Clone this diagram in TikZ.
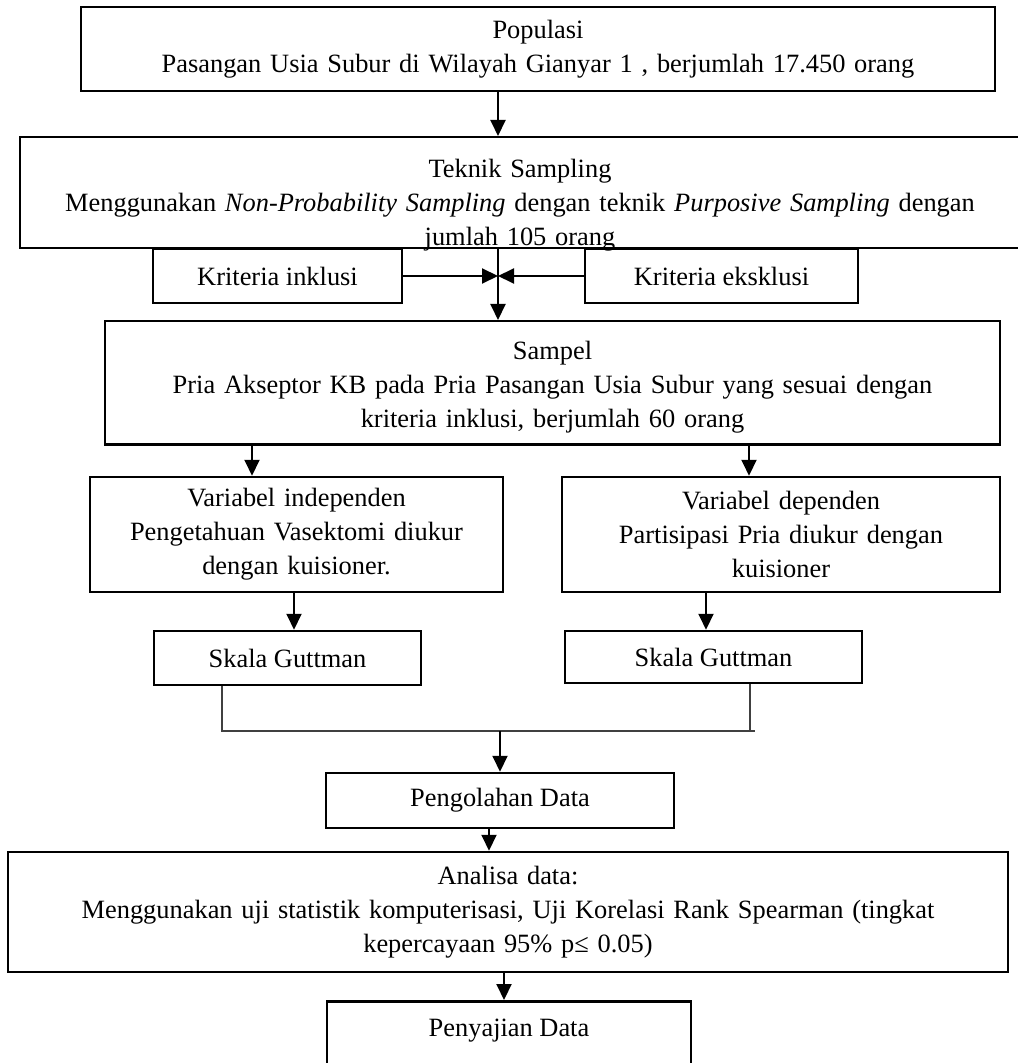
\documentclass[tikz,border=0pt]{standalone}
\usepackage{fontspec}
\setmainfont{Liberation Serif}
\usetikzlibrary{arrows.meta}

\begin{document}
\begin{tikzpicture}[x=0.5pt,y=-0.5pt,
        box/.style={draw=black,line width=1.25pt,rectangle,align=center,inner sep=0pt,
            font=\fontsize{13.2pt}{17pt}\selectfont},
        arr/.style={draw=black,line width=1pt,-{Triangle[length=8pt,width=7.5pt]}},
        link/.style={draw=black!75,line width=0.6pt}]
    \useasboundingbox (0,0) rectangle (1017,1063);

    % boxes, top to bottom
    \node[box,minimum width=457pt,minimum height=42pt,text width=445pt] (pop) at (538,49) {
        Populasi\\
        Pasangan Usia Subur di Wilayah Gianyar 1 , berjumlah 17.450 orang};
    \node[box,anchor=north,minimum width=500pt,text width=490pt,text height=20pt,text depth=35.5pt] (tek) at (520,136) {
        Teknik Sampling\\
        Menggunakan \textit{Non-Probability Sampling} dengan teknik \textit{Purposive Sampling} dengan\\
        jumlah 105 orang};
    \node[box,minimum width=124.5pt,minimum height=27pt] (inkl) at (277.5,276) {Kriteria inklusi};
    \node[box,minimum width=136.5pt,minimum height=27pt] (eksk) at (721.5,276) {Kriteria eksklusi};
    \node[box,anchor=north,minimum width=447.5pt,text width=437pt,text height=19pt,text depth=42.5pt] (samp) at (552.5,320) {
        Sampel\\
        Pria Akseptor KB pada Pria Pasangan Usia Subur yang sesuai dengan\\
        kriteria inklusi, berjumlah 60 orang};
    \node[box,minimum width=206.5pt,minimum height=57.5pt,text width=198pt] (varI) at (296.5,534.5) {
        Variabel independen\\
        Pengetahuan Vasektomi diukur\\
        dengan kuisioner.};
    \node[box,minimum width=219pt,minimum height=57.5pt,text width=200pt] (varD) at (781,534.5) {
        Variabel dependen\\
        Partisipasi Pria diukur dengan\\
        kuisioner};
    \node[box,minimum width=133.5pt,minimum height=27pt] (skI) at (287.5,658) {Skala Guttman};
    \node[box,minimum width=148.5pt,minimum height=26pt] (skD) at (713.5,657) {Skala Guttman};
    \node[box,minimum width=174pt,minimum height=27.5pt] (peng) at (500,800.5) {Pengolahan Data};
    \node[box,minimum width=500pt,minimum height=60pt,text width=490pt] (anal) at (508,912) {
        Analisa data:\\
        Menggunakan uji statistik komputerisasi, Uji Korelasi Rank Spearman (tingkat\\
        kepercayaan 95\% p≤ 0.05)};
    \node[box,anchor=north,minimum width=182pt,text height=17.5pt,text depth=22pt] (peny) at (509,1000) {Penyajian Data};

    % connectors
    \coordinate (spine) at (498,0);
    \coordinate (sampL) at (252,0);
    \coordinate (sampR) at (749,0);
    \coordinate (varL) at (294,0);
    \coordinate (varR) at (706,0);
    \coordinate (skL) at (222,0);
    \coordinate (skR) at (750,0);
    \coordinate (merge) at (500,731);
    \coordinate (mergeEnd) at (755,731);
    \coordinate (pengX) at (489,0);
    \coordinate (analX) at (504,0);

    \draw[arr] (pop.south -| spine) -- (tek.north -| spine);
    \draw[arr] (tek.south -| spine) -- (samp.north -| spine);
    \draw[arr] (inkl.east) -- (inkl.east -| spine);
    \draw[arr] (eksk.west) -- (eksk.west -| spine);
    \draw[arr] (samp.south -| sampL) -- (varI.north -| sampL);
    \draw[arr] (samp.south -| sampR) -- (varD.north -| sampR);
    \draw[arr] (varI.south -| varL) -- (skI.north -| varL);
    \draw[arr] (varD.south -| varR) -- (skD.north -| varR);
    \draw[link] (skI.south -| skL) |- (mergeEnd);
    \draw[link] (skD.south -| skR) -- (mergeEnd -| skR);
    \draw[arr] (merge) -- (peng.north -| merge);
    \draw[arr] (peng.south -| pengX) -- (anal.north -| pengX);
    \draw[arr] (anal.south -| analX) -- (peny.north -| analX);
\end{tikzpicture}
\end{document}
